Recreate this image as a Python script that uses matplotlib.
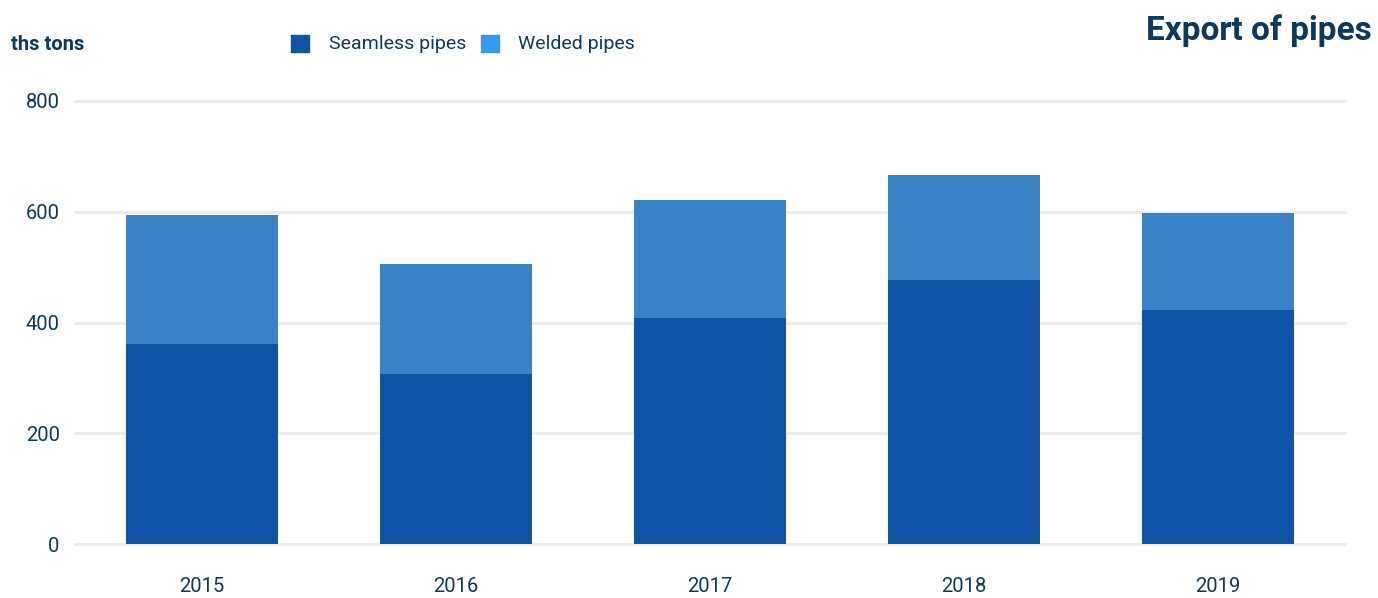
import matplotlib
matplotlib.use("Agg")
import matplotlib.pyplot as plt
from matplotlib.patches import Rectangle

# data (ths tons)
years = ["2015", "2016", "2017", "2018", "2019"]
seamless = [361, 307, 408, 477, 423]
welded = [233, 199, 213, 190, 175]
yticks = [0, 200, 400, 600, 800]

plt.rcParams['font.family'] = ['Roboto', 'DejaVu Sans']
txt = '#0b3a5c'
c_seam = '#0d53a6'
c_weld = '#3883c5'
c_weld_leg = '#3399ee'

W, H = 1378, 598
fig = plt.figure(figsize=(W / 100, H / 100), dpi=100)
ax = fig.add_axes([75 / W, 1 - 544 / H, (1345 - 75) / W, (544 - 101) / H])

x = range(len(years))
ax.bar(x, seamless, width=0.6, color=c_seam, zorder=3)
ax.bar(x, welded, width=0.6, bottom=seamless, color=c_weld, zorder=3)

ax.set_xlim(-0.5, len(years) - 0.5)
ax.set_ylim(0, 800)
ax.set_yticks(yticks)
ax.set_xticks(list(x))
ax.set_xticklabels(years)
for s in ax.spines.values():
    s.set_visible(False)
ax.grid(axis='y', color='#ebebeb', linewidth=2, zorder=0)
for gl in ax.get_ygridlines():
    gl.set_clip_on(False)
ax.tick_params(axis='both', length=0, labelsize=14.5, labelcolor=txt)
ax.tick_params(axis='y', pad=11)
ax.tick_params(axis='x', pad=24)

fig.text(11 / W, 1 - 44 / H, "ths tons", fontsize=14.5, fontweight='bold', color=txt, va='center')

# legend
for px, tx, col, lab in [(291, 329, c_seam, "Seamless pipes"), (481, 518, c_weld_leg, "Welded pipes")]:
    fig.patches.append(Rectangle((px / W, 1 - 52 / H), 18 / W, 17 / H,
                                 transform=fig.transFigure, color=col))
    fig.text(tx / W, 1 - 44 / H, lab, fontsize=14, color=txt, va='center')

fig.text(1372 / W, 1 - 31 / H, "Export of pipes", fontsize=24, fontweight='bold',
         color=txt, ha='right', va='center')

fig.savefig("out.png", dpi=100)
